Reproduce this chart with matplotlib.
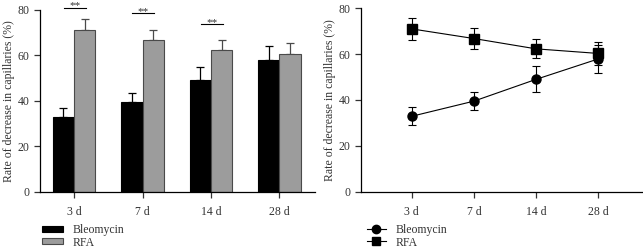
import numpy as np
import matplotlib
matplotlib.use('Agg')
import matplotlib.pyplot as plt
from matplotlib.lines import Line2D

# Data
days = ['3 d', '7 d', '14 d', '28 d']
bleo = [32.9, 39.5, 49.0, 57.9]
bleo_sd = [3.9, 3.9, 5.7, 6.1]
rfa = [71.0, 66.8, 62.3, 60.3]
rfa_sd = [4.7, 4.4, 4.2, 5.2]
# significance bars: (group index, line height)
sig = [(0, 80.8), (1, 78.5), (2, 73.5)]

plt.rcParams['font.family'] = ['Liberation Serif', 'DejaVu Serif']
plt.rcParams['font.size'] = 8.5
plt.rcParams['axes.linewidth'] = 0.9
plt.rcParams['xtick.major.width'] = 0.9
plt.rcParams['ytick.major.width'] = 0.9
plt.rcParams['xtick.major.size'] = 4
plt.rcParams['ytick.major.size'] = 4
txt = '#333333'

fig = plt.figure(figsize=(6.43, 2.5), dpi=100)
ax1 = fig.add_axes([0.062, 0.232, 0.428, 0.730])
ax2 = fig.add_axes([0.561, 0.233, 0.437, 0.734])

x = np.arange(len(days))
w = 0.31

# Left: bar chart
ax1.bar(x - w / 2, bleo, w, color='black', edgecolor='black', linewidth=0.8,
        label='Bleomycin', zorder=2)
ax1.bar(x + w / 2, rfa, w, color='#9c9c9c', edgecolor='#4a4a4a', linewidth=0.8,
        label='RFA', zorder=2)
ax1.errorbar(x - w / 2, bleo, yerr=[np.zeros(4), bleo_sd], fmt='none',
             ecolor='black', elinewidth=0.9, capsize=3, capthick=0.9, zorder=1)
ax1.errorbar(x + w / 2, rfa, yerr=[np.zeros(4), rfa_sd], fmt='none',
             ecolor='#4a4a4a', elinewidth=0.9, capsize=3, capthick=0.9, zorder=1)

for i, h in sig:
    ax1.plot([i - 0.15, i + 0.17], [h, h], color='black', lw=0.8, clip_on=False)
    ax1.text(i + 0.01, h - 1.2, '**', ha='center', va='bottom', fontsize=8,
             color=txt, clip_on=False)

ax1.set_xlim(-0.5, 3.52)
ax1.set_ylim(0, 80)
ax1.set_yticks([0, 20, 40, 60, 80])
ax1.set_xticks(x)
ax1.set_xticklabels(days)
ax1.set_ylabel('Rate of decrease in capillaries (%)', color=txt, labelpad=2)
ax1.legend(loc='upper left', bbox_to_anchor=(-0.01, -0.15), frameon=False,
           handlelength=1.8, handleheight=0.4, labelspacing=0.05,
           borderaxespad=0, labelcolor=txt)

# Right: line chart
ax2.errorbar(x, bleo, yerr=bleo_sd, color='black', marker='o', ms=6.5, lw=0.8,
             elinewidth=0.8, capsize=3, capthick=0.8)
ax2.errorbar(x, rfa, yerr=rfa_sd, color='black', marker='s', ms=6.5, lw=0.8,
             elinewidth=0.8, capsize=3, capthick=0.8)
ax2.set_xlim(-0.82, 3.7)
ax2.set_ylim(0, 80)
ax2.set_yticks([0, 20, 40, 60, 80])
ax2.set_xticks(x)
ax2.set_xticklabels(days)
ax2.set_ylabel('Rate of decrease in capillaries (%)', color=txt, labelpad=2)
handles = [Line2D([], [], color='black', marker='o', ms=6, lw=0.8),
           Line2D([], [], color='black', marker='s', ms=6, lw=0.8)]
ax2.legend(handles, ['Bleomycin', 'RFA'], loc='upper left',
           bbox_to_anchor=(0.005, -0.15), frameon=False, handlelength=1.6,
           labelspacing=0.05, borderaxespad=0, labelcolor=txt)

for ax in (ax1, ax2):
    ax.spines['top'].set_visible(False)
    ax.spines['right'].set_visible(False)
    ax.tick_params(colors=txt, labelsize=8.5)
    ax.tick_params(axis='x', pad=6)

fig.savefig('out.png', dpi=100)
